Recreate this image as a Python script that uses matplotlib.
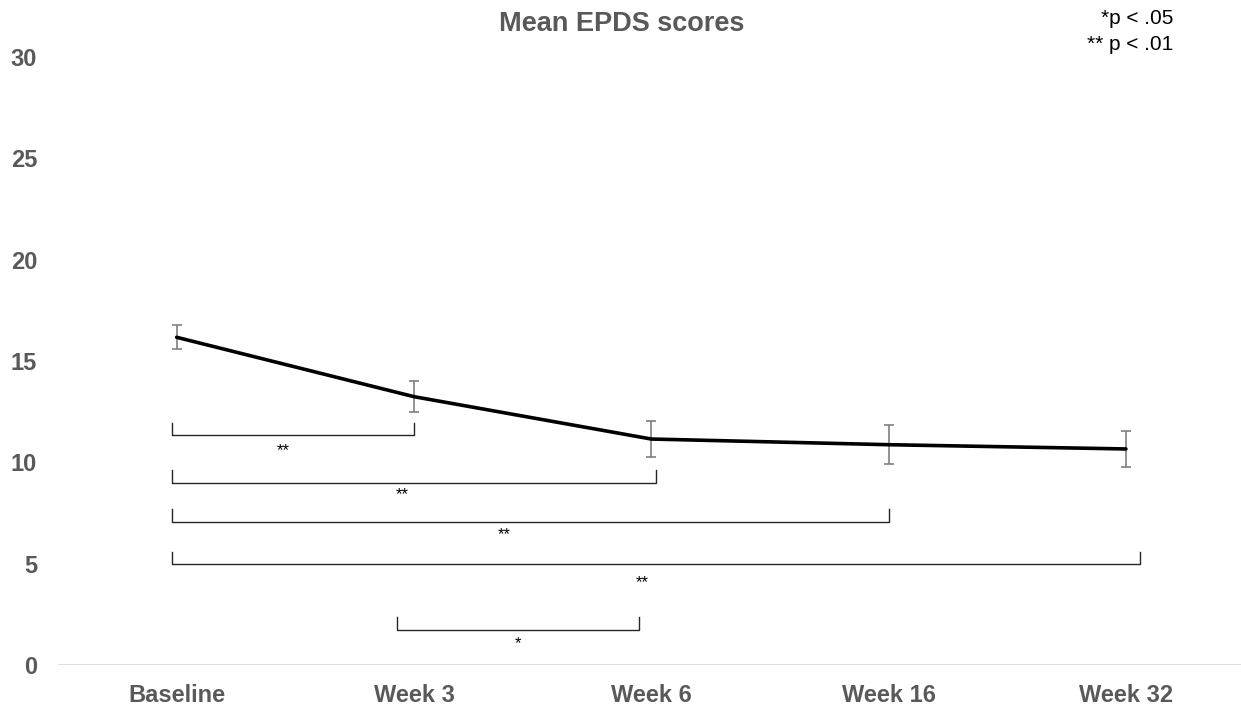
import matplotlib.pyplot as plt

# data
weeks = ["Baseline", "Week 3", "Week 6", "Week 16", "Week 32"]
mean_epds = [16.17, 13.24, 11.15, 10.87, 10.66]
err_epds = [0.60, 0.78, 0.89, 0.96, 0.90]

# significance brackets: start, end, line level, tick top, star label, star level
br_start = [-0.02, -0.02, -0.02, -0.02, 0.93]
br_end = [1.0, 2.02, 3.0, 4.06, 1.95]
br_low = [11.33, 8.98, 7.07, 4.97, 1.73]
br_high = [11.95, 9.60, 7.70, 5.57, 2.35]
br_star = ["**", "**", "**", "**", "*"]
star_x = [0.45, 0.95, 1.38, 1.96, 1.44]
star_y = [10.57, 8.39, 6.45, 4.06, 1.04]

plt.rcParams['font.family'] = ['Liberation Sans', 'DejaVu Sans']
grey = '#595959'

fig = plt.figure(figsize=(12.41, 7.08), dpi=100)
ax = fig.add_axes([58 / 1241, 1 - 665 / 708, 1 - 58 / 1241, (665 - 57) / 708])

x = list(range(len(weeks)))
ax.errorbar(x, mean_epds, yerr=err_epds, fmt='none', ecolor='#7f7f7f',
            elinewidth=1.2, capsize=3.5, capthick=1.2, zorder=2)
ax.plot(x, mean_epds, color='black', lw=2.6, zorder=3, solid_capstyle='round')

# brackets with stars
for i in range(len(br_start)):
    ax.plot([br_start[i], br_start[i], br_end[i], br_end[i]],
            [br_high[i], br_low[i], br_low[i], br_high[i]],
            color='#262626', lw=1.0, zorder=2)
    ax.text(star_x[i], star_y[i], br_star[i], ha='center', va='center',
            fontsize=12, color='black')

ax.axhline(0, color='#d9d9d9', lw=1.2, zorder=1)

ax.set_xlim(-0.5, 4.485)
ax.set_ylim(0, 30)
ax.set_yticks([0, 5, 10, 15, 20, 25, 30])
ax.set_xticks(x)
ax.set_xticklabels(weeks)
ax.tick_params(axis='both', length=0, labelsize=17, labelcolor=grey)
ax.tick_params(axis='y', pad=15)
ax.tick_params(axis='x', pad=14)
for lab in ax.get_xticklabels() + ax.get_yticklabels():
    lab.set_fontweight('bold')
for s in ax.spines.values():
    s.set_visible(False)

fig.text(622 / 1241, 1 - 24 / 708, "Mean EPDS scores", ha='center', va='center',
         fontsize=19.5, fontweight='bold', color=grey)
fig.text(1173 / 1241, 1 - 18 / 708, "*p < .05", ha='right', va='center',
         fontsize=15, color='black')
fig.text(1173 / 1241, 1 - 45 / 708, "** p < .01", ha='right', va='center',
         fontsize=15, color='black')

fig.savefig("out.png", dpi=100)
